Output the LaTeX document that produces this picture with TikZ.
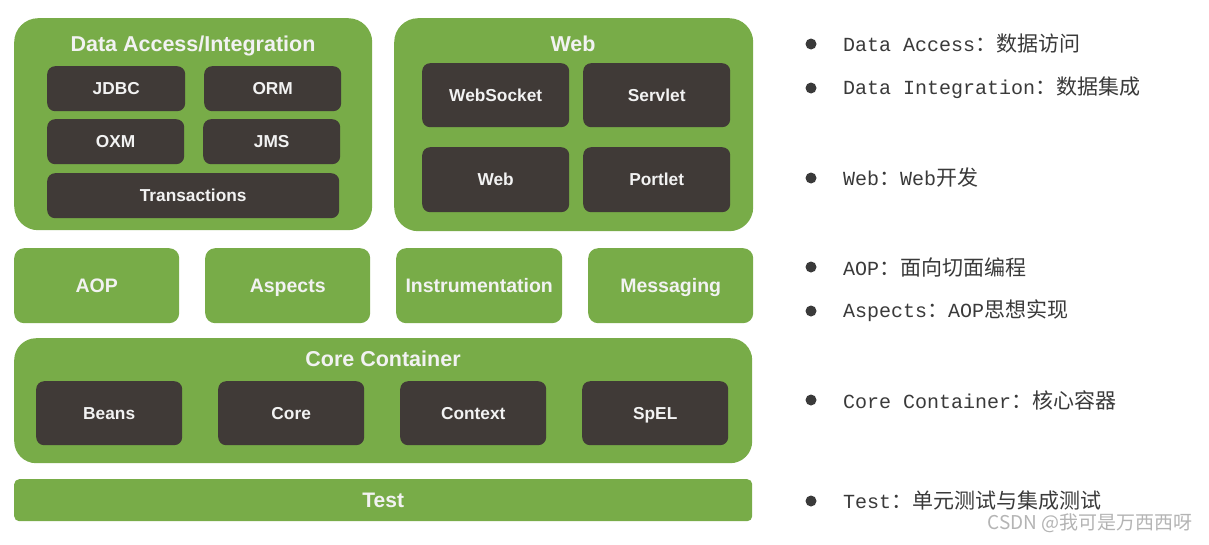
\documentclass[tikz,border=0pt]{standalone}
\usepackage{fontspec}
\setmainfont{Liberation Sans}
\newfontfamily\monof{Liberation Mono}
\newfontfamily\cjkf{Noto Sans CJK SC}
\definecolor{sgreen}{HTML}{78AC48}
\definecolor{sdark}{HTML}{403A37}
\definecolor{txtgray}{HTML}{3A3A3A}
\definecolor{wmgray}{HTML}{B4B4B4}
\tikzset{
  grp/.style={fill=sgreen, rounded corners=24pt, inner sep=0pt, anchor=north west},
  mid/.style={fill=sgreen, rounded corners=10pt, inner sep=0pt, anchor=north west, text=white!95!black,
    font=\bfseries\fontsize{19.5}{22}\selectfont, text height=14pt, text depth=0pt},
  dk/.style={fill=sdark, rounded corners=8pt, inner sep=0pt, anchor=north west, text=white!95!black,
    font=\bfseries\fontsize{17.3}{20}\selectfont, text height=12.5pt, text depth=0pt},
  ttl/.style={text=white!95!black, font=\bfseries\fontsize{21.5}{24}\selectfont, inner sep=0pt,
    text height=15.5pt, text depth=0pt},
  bul/.style={circle, fill=txtgray, inner sep=0pt, minimum size=11pt},
  note/.style={anchor=west, inner sep=0pt, text=txtgray, font=\monof\fontsize{20}{24}\selectfont},
}
\newcommand\cj[1]{{\cjkf\fontsize{21}{24}\selectfont #1}}
\begin{document}
\begin{tikzpicture}[x=1pt,y=-1pt]
\useasboundingbox (0,0) rectangle (1209,544);
\fill[white] (0,0) rectangle (1209,544);

% Data Access / Integration
\node[grp, minimum width=358pt, minimum height=212pt] (da) at (14,18) {};
\node[ttl] (dat) at (193,44) {Data Access/Integration};
\node[dk, minimum width=138pt, minimum height=45pt] (jdbc) at (47,66) {JDBC};
\node[dk, minimum width=137pt, minimum height=45pt] (orm) at (204,66) {ORM};
\node[dk, minimum width=137pt, minimum height=45pt] (oxm) at (47,119) {OXM};
\node[dk, minimum width=137pt, minimum height=45pt] (jms) at (203,119) {JMS};
\node[dk, minimum width=292pt, minimum height=45pt] (tx) at (47,173) {Transactions};

% Web
\node[grp, minimum width=359pt, minimum height=213pt] (web) at (394,18) {};
\node[ttl] (webt) at (573,44) {Web};
\node[dk, minimum width=147pt, minimum height=64pt] (ws) at (422,63) {WebSocket};
\node[dk, minimum width=147pt, minimum height=64pt] (srv) at (583,63) {Servlet};
\node[dk, minimum width=147pt, minimum height=65pt] (webi) at (422,147) {Web};
\node[dk, minimum width=147pt, minimum height=65pt] (port) at (583,147) {Portlet};

% middle row
\node[mid, minimum width=165pt, minimum height=75pt] (aop) at (14,248) {AOP};
\node[mid, minimum width=165pt, minimum height=75pt] (asp) at (205,248) {Aspects};
\node[mid, minimum width=166pt, minimum height=75pt] (ins) at (396,248) {Instrumentation};
\node[mid, minimum width=165pt, minimum height=75pt] (msg) at (588,248) {Messaging};

% Core Container
\node[grp, rounded corners=22pt, minimum width=738pt, minimum height=125pt] (cc) at (14,338) {};
\node[ttl] (cct) at (383,359) {Core Container};
\node[dk, minimum width=146pt, minimum height=64pt] (beans) at (36,381) {Beans};
\node[dk, minimum width=146pt, minimum height=64pt] (core) at (218,381) {Core};
\node[dk, minimum width=146pt, minimum height=64pt] (ctx) at (400,381) {Context};
\node[dk, minimum width=146pt, minimum height=64pt] (spel) at (582,381) {SpEL};

% Test
\node[mid, rounded corners=5pt, minimum width=738pt, minimum height=42pt, font=\bfseries\fontsize{21}{24}\selectfont, text height=15.1pt] (test) at (14,479) {Test};

% notes
\node[bul] (b1) at (811,44) {};
\node[note] (n1) at (843,44) {Data Access\cj{：数据访问}};
\node[bul] (b2) at (811,88) {};
\node[note] (n2) at (843,88) {Data Integration\cj{：数据集成}};
\node[bul] (b3) at (811,178) {};
\node[note] (n3) at (843,178) {Web\cj{：}Web\cj{开发}};
\node[bul] (b4) at (811,267) {};
\node[note] (n4) at (843,267) {AOP\cj{：面向切面编程}};
\node[bul] (b5) at (811,311) {};
\node[note] (n5) at (843,311) {Aspects\cj{：}AOP\cj{思想实现}};
\node[bul] (b6) at (811,400) {};
\node[note] (n6) at (843,400) {Core Container\cj{：核心容器}};
\node[bul] (b7) at (811,501) {};
\node[note] (n7) at (843,501) {Test\cj{：单元测试与集成测试}};

% watermark
\node[anchor=east, inner sep=0pt, text=wmgray, font=\cjkf\fontsize{19}{22}\selectfont] (wm) at (1193,523) {CSDN @我可是万西西呀};
\end{tikzpicture}
\end{document}
